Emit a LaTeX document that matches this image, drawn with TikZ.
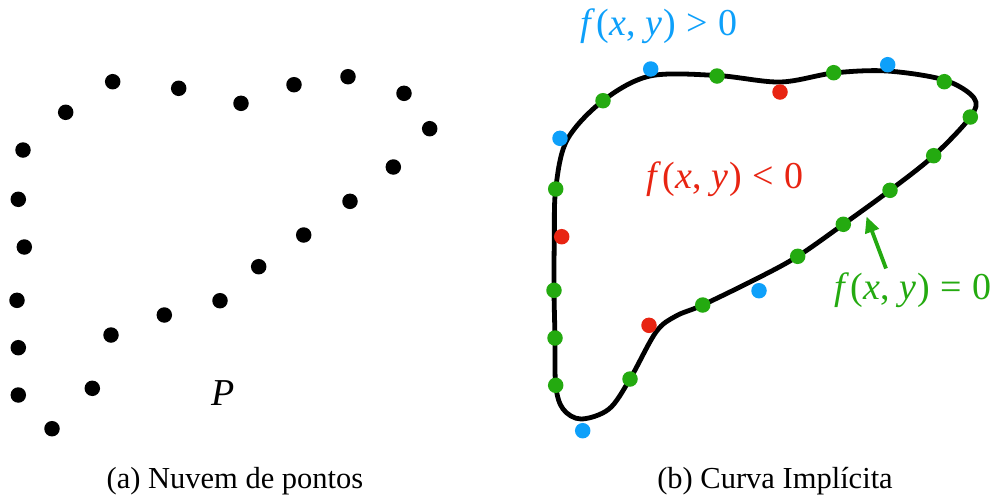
\documentclass[tikz,border=0pt]{standalone}
\usepackage{fontspec}
\setmainfont{Liberation Serif}
\usetikzlibrary{arrows.meta}
\definecolor{cblue}{RGB}{14,160,250}
\definecolor{cred}{RGB}{232,36,18}
\definecolor{cgreen}{RGB}{36,170,16}
\tikzset{
  pt/.style={circle,inner sep=0pt,minimum size=15.5pt,fill=black},
  bpt/.style={pt,fill=cblue},
  rpt/.style={pt,fill=cred},
  gpt/.style={pt,fill=cgreen},
  mathlbl/.style={font=\fontsize{38}{42}\selectfont,inner sep=0pt},
  caplbl/.style={font=\fontsize{30.5}{34}\selectfont,inner sep=0pt,anchor=base},
  curve/.style={line width=4.8pt,black},
}
\newcommand{\fxy}{\textit{f}\kern1.5pt(\textit{x}, \textit{y}\kern1.5pt)}
\newcommand{\rel}[1]{\hspace{0.28em}#1\hspace{0.28em}}
\begin{document}
\begin{tikzpicture}[x=1pt,y=-1pt]
\useasboundingbox (0,0) rectangle (1004,499);
% left point cloud
\foreach \px/\py [count=\i] in {112.7/81.7,178.7/88.3,65.7/112.3,241/103.3,294/84.7,348/76.7,404/93.3,429.7/128.7,23/150,393.3/167,18.3/199.3,350/201.3,24.3/247,303.7/235,258.7/266.7,17/300.3,220/300.7,164.3/315,111/335,18.3/347.7,92.3/388.3,18.3/395,52/428.7}
  \node[pt] (p\i) at (\px,\py) {};
\node[font=\fontsize{38}{42}\selectfont\itshape,inner sep=0pt] (P) at (223,393) {P};
\node[caplbl] (capa) at (235,488) {(a) Nuvem de pontos};
% right: implicit curve
\draw[curve] plot[smooth cycle,tension=0.55] coordinates {
 (555.7,385.3) (555,338) (554,290.3) (554.3,240) (555.7,189) (567,140) (603,100.7)
 (650,76) (717,75.5) (780,82) (833.7,73) (887,71) (944.3,80)
 (974,98) (970.3,117) (933.7,155.7) (890,190.3) (843.3,224.3) (797.7,256.3)
 (759,277.5) (702.7,305) (676,316) (656,332) (630,379) (609,409) (581,419) (563,409)};
\foreach \px/\py [count=\i] in {717/76,833.7/72.7,944.3/81.7,970.3/117,933.7/155.7,890/190.3,843.3/224.3,797.7/256.3,702.7/305,630/379,555.7/385.3,555/338,554/290.3,555.7/189,603/100.7}
  \node[gpt] (g\i) at (\px,\py) {};
\foreach \px/\py [count=\i] in {650.7/69,887.7/64.7,560/138.3,759/290.7,582.7/430.7}
  \node[bpt] (b\i) at (\px,\py) {};
\foreach \px/\py [count=\i] in {780/92,561.7/236.7,649/325.3}
  \node[rpt] (r\i) at (\px,\py) {};
\node[mathlbl,text=cblue] (pos) at (659,26) {\fxy\rel{>}0};
\node[mathlbl,text=cred] (neg) at (725,179) {\fxy\rel{<}0};
\node[mathlbl,text=cgreen] (zero) at (913,290) {\fxy\rel{=}0};
\coordinate (tail) at (886,268.5);
\coordinate (tip) at (866.5,216.5);
\draw[cgreen,line width=3.8pt,-{Triangle[length=16pt,width=14pt]}] (tail) -- (tip);
\node[caplbl] (capb) at (775,488) {(b) Curva Implícita};
\end{tikzpicture}
\end{document}
